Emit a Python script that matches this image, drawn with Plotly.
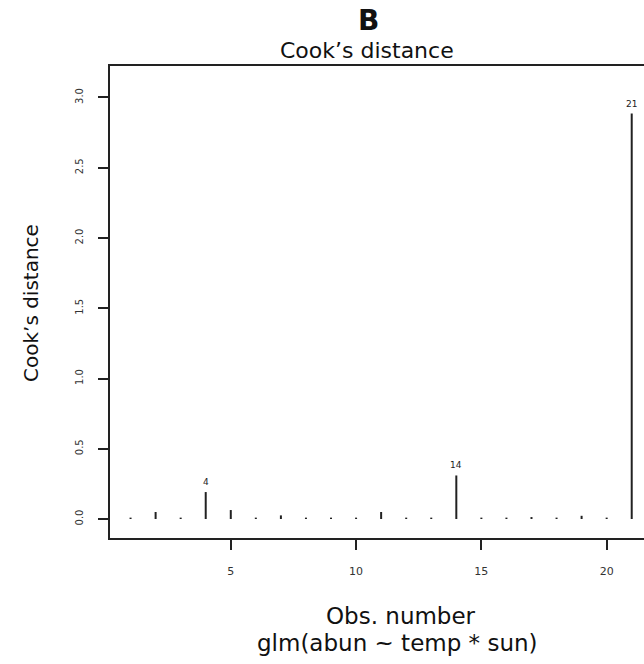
import plotly.graph_objects as go

obs = list(range(1, 22))
cooks = [0.01, 0.05, 0.01, 0.192, 0.064, 0.01, 0.026, 0.01, 0.01, 0.01, 0.05,
         0.01, 0.01, 0.31, 0.01, 0.01, 0.014, 0.01, 0.023, 0.01, 2.886]
labelled = [4, 14, 21]
xticks = [5, 10, 15, 20]
yticks = [0.0, 0.5, 1.0, 1.5, 2.0, 2.5, 3.0]

FONT = "DejaVu Sans"
INK = "#222222"

W, H = 644, 664
pl, pr, pt, pb = 110, 644, 66, 538
pw, ph = pr - pl, pb - pt


def px_x(px):
    return (px - pl) / pw


def px_y(py):
    return (pb - py) / ph


xs, ys = [], []
for o, c in zip(obs, cooks):
    xs += [o, o, None]
    ys += [0, c, None]

fig = go.Figure()
fig.add_trace(go.Scatter(x=xs, y=ys, mode="lines",
                         line=dict(color=INK, width=2), hoverinfo="skip",
                         showlegend=False))

for o in labelled:
    fig.add_annotation(x=o, y=cooks[o - 1], text=str(o), showarrow=False,
                       yanchor="bottom", yshift=3, xref="x", yref="y",
                       font=dict(family=FONT, size=9, color=INK))


def txt(text, x, y, size, angle=0):
    fig.add_annotation(text=text, x=px_x(x), y=px_y(y), xref="paper", yref="paper",
                       xanchor="center", yanchor="middle", showarrow=False,
                       textangle=angle, font=dict(family=FONT, size=size, color="#111"))


txt("<b>B</b>", 368, 20, 28)
txt("Cook\u2019s distance", 367, 50, 22)
txt("Obs. number", 401, 616, 23)
txt("glm(abun ~ temp * sun)", 397, 643, 23)
txt("Cook\u2019s distance", 31, 303, 20, -90)

fig.update_layout(
    width=W, height=H,
    margin=dict(l=pl, r=W - pr, t=pt, b=H - pb),
    paper_bgcolor="white", plot_bgcolor="white",
    showlegend=False,
)

fig.update_xaxes(range=[0.18, 21.49], tickvals=xticks, ticks="outside", ticklen=10,
                 tickwidth=1.5, tickcolor=INK, showline=True, linecolor=INK,
                 linewidth=1.5, mirror=True, showgrid=False, zeroline=False,
                 tickfont=dict(family=FONT, size=11, color="#333"),
                 ticklabelstandoff=12)
fig.update_yaxes(range=[-0.135, 3.224], tickvals=yticks,
                 ticktext=[f"{v:.1f}" for v in yticks], ticks="outside", ticklen=10,
                 tickwidth=1.5, tickcolor=INK, showline=True, linecolor=INK,
                 linewidth=1.5, mirror=False, showgrid=False, zeroline=False,
                 tickangle=-90, tickfont=dict(family=FONT, size=10, color="#333"),
                 ticklabelstandoff=11)

fig.write_html("out.html")
